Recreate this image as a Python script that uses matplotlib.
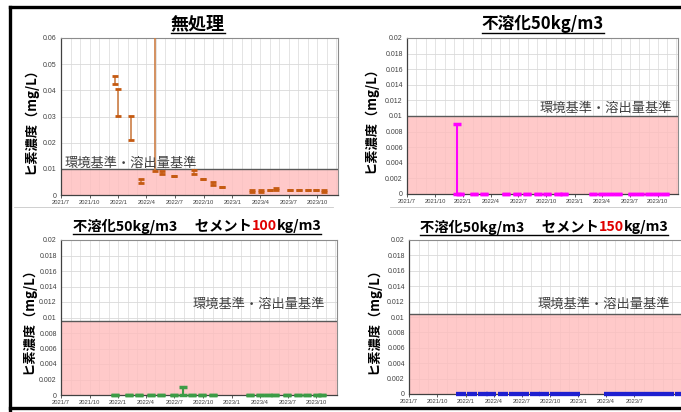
import numpy as np
import pandas as pd
import matplotlib
matplotlib.use('Agg')
import matplotlib.pyplot as plt
import matplotlib.dates as mdates
from matplotlib.lines import Line2D

plt.rcParams['font.family'] = ['Noto Sans CJK JP', 'DejaVu Sans']

W, H = 681, 412

# 無処理
p1_dates = ['2021-12-20', '2021-12-30', '2022-02-09', '2022-03-13', '2022-04-27',
            '2022-05-22', '2022-06-28', '2022-08-31', '2022-09-28', '2022-11-01',
            '2022-11-28', '2023-03-04', '2023-04-04', '2023-05-01', '2023-05-22',
            '2023-07-04', '2023-08-04', '2023-09-02', '2023-09-28', '2023-10-22']
p1_low = [0.0424, 0.0302, 0.0212, 0.0047, 0.0093, 0.0082, 0.0071, 0.0081, 0.0061, 0.0039,
          0.0030, 0.0010, 0.0010, 0.0020, 0.0020, 0.0020, 0.0020, 0.0020, 0.0020, 0.0010]
p1_high = [0.0454, 0.0405, 0.0302, 0.0061, 0.0800, 0.0090, 0.0071, 0.0094, 0.0061, 0.0050,
           0.0030, 0.0019, 0.0019, 0.0020, 0.0028, 0.0020, 0.0020, 0.0020, 0.0020, 0.0019]

# 不溶化50kg/m3
p2_dates = ['2021-12-13', '2021-12-23', '2022-02-04', '2022-03-10', '2022-05-23',
            '2022-06-25', '2022-07-30', '2022-09-02', '2022-10-04', '2022-11-07',
            '2022-11-28', '2023-03-04', '2023-04-01', '2023-04-28', '2023-05-25',
            '2023-07-07', '2023-08-04', '2023-09-01', '2023-09-28', '2023-10-25']
p2_low = [0.0] * 20
p2_high = [0.009] + [0.0] * 19

# 不溶化50kg/m3 セメント100kg/m3
p3_dates = ['2021-12-22', '2022-02-04', '2022-03-10', '2022-04-16', '2022-05-19',
            '2022-06-28', '2022-07-28', '2022-08-28', '2022-09-28', '2022-11-01',
            '2023-03-01', '2023-04-01', '2023-04-28', '2023-05-19', '2023-06-28',
            '2023-08-01', '2023-09-01', '2023-10-04', '2023-10-19']
p3_low = [0.0] * 19
p3_high = [0.0] * 6 + [0.001] + [0.0] * 12

# 不溶化50kg/m3 セメント150kg/m3
p4_dates = ['2021-12-16', '2022-01-22', '2022-02-25', '2022-03-25', '2022-05-01',
            '2022-06-07', '2022-07-10', '2022-08-13', '2022-09-13', '2022-10-16',
            '2022-11-19', '2022-12-22', '2023-04-10', '2023-05-13', '2023-06-13',
            '2023-07-16', '2023-08-19', '2023-09-19', '2023-10-22', '2023-11-25']
p4_low = [0.0] * 20
p4_high = [0.0] * 20

tick_dates = ['2021-07-01', '2021-10-01', '2022-01-01', '2022-04-01', '2022-07-01',
              '2022-10-01', '2023-01-01', '2023-04-01', '2023-07-01', '2023-10-01']
tick_labels = ['2021/7', '2021/10', '2022/1', '2022/4', '2022/7',
               '2022/10', '2023/1', '2023/4', '2023/7', '2023/10']
x_start, x_end = '2021-07-01', '2023-12-06'

ylabel = 'ヒ素濃度（mg/L）'
std_label = '環境基準・溶出量基準'

fig = plt.figure(figsize=(W / 100, H / 100), dpi=100)


def px_axes(left, top, right, bottom):
    return fig.add_axes([left / W, 1 - bottom / H, (right - left) / W, (bottom - top) / H])


def fig_line(x0, x1, y0, y1, color='black', lw=2.2):
    fig.add_artist(Line2D([x0 / W, x1 / W], [1 - y0 / H, 1 - y1 / H],
                          transform=fig.transFigure, color=color, lw=lw))


def style_axes(ax, ymax, ystep, band_top, nticks=10):
    ax.set_xlim(pd.Timestamp(x_start), pd.Timestamp(x_end))
    ax.set_ylim(0, ymax)
    yt = np.round(np.arange(0, ymax + ystep / 2, ystep), 4)
    ax.set_yticks(yt)
    ax.set_yticklabels([f'{v:g}' for v in yt])
    ax.set_xticks(pd.to_datetime(tick_dates[:nticks]))
    ax.set_xticklabels(tick_labels[:nticks])
    ax.xaxis.set_minor_locator(mdates.MonthLocator())
    ax.set_axisbelow(True)
    ax.grid(which='both', axis='x', color='#d9d9d9', lw=0.5)
    ax.grid(which='major', axis='y', color='#d9d9d9', lw=0.6)
    ax.axhspan(0, band_top, color='#ffbcbc', alpha=0.8, lw=0, zorder=1)
    ax.axhline(band_top, color='#595959', lw=1, zorder=2)
    for s in ['top', 'right']:
        ax.spines[s].set_color('#8c8c8c')
        ax.spines[s].set_linewidth(0.8)
    for s in ['left', 'bottom']:
        ax.spines[s].set_color('#404040')
        ax.spines[s].set_linewidth(0.9)
    ax.tick_params(axis='x', which='major', length=2, width=0.6, labelsize=4.2, pad=1.5,
                   colors='#404040')
    ax.tick_params(axis='x', which='minor', length=0)
    ax.tick_params(axis='y', length=0, labelsize=5, pad=3, colors='#404040')
    plt.setp(ax.get_xticklabels() + ax.get_yticklabels(),
             family=['Liberation Sans Narrow', 'Liberation Sans', 'DejaVu Sans'])


def draw_series(ax, dates, low, high, line_color, mark_color, ms, mew, lw):
    d = pd.to_datetime(dates)
    low = np.array(low)
    high = np.array(high)
    ax.vlines(d, low, high, color=line_color, lw=lw, zorder=3)
    ax.plot(d, low, ls='none', marker='_', ms=ms, mew=mew, color=mark_color,
            zorder=4, clip_on=False)
    top = ax.get_ylim()[1]
    keep = high <= top
    ax.plot(d[keep], high[keep], ls='none', marker='_', ms=ms, mew=mew, color=mark_color,
            zorder=4, clip_on=False)


def draw_title(cx, cy, parts, size=13, uoff=9):
    texts = []
    for s, c in parts:
        texts.append(fig.text(0, 0, s, color=c, fontsize=size, fontweight='bold',
                              ha='left', va='center'))
    r = fig.canvas.get_renderer()
    widths = [t.get_window_extent(r).width for t in texts]
    total = sum(widths)
    x = cx - total / 2
    for t, w in zip(texts, widths):
        t.set_position((x / W, 1 - cy / H))
        x += w
    fig_line(cx - total / 2, cx + total / 2, cy + uoff, cy + uoff, lw=1.0)


# 枠線
fig_line(10, 681, 7, 7, lw=2.4)
fig_line(10, 10, 7, 410, lw=2.4)
fig_line(10, 681, 408, 408, lw=2.4)
fig_line(14, 333, 207, 207, color='#c8c8c8', lw=0.6)
fig_line(390, 681, 207, 207, color='#c8c8c8', lw=0.6)

ax1 = px_axes(61, 38, 338, 195)
style_axes(ax1, 0.06, 0.01, 0.01)
draw_series(ax1, p1_dates, p1_low, p1_high, '#cc7e45', '#c55a11', 5, 2.0, 1.2)

ax2 = px_axes(407, 38, 678, 194)
style_axes(ax2, 0.02, 0.002, 0.01)
draw_series(ax2, p2_dates, p2_low, p2_high, '#ff00ff', '#ff00ff', 6, 2.5, 1.5)

ax3 = px_axes(61, 240, 337, 395)
style_axes(ax3, 0.02, 0.002, 0.0095)
draw_series(ax3, p3_dates, p3_low, p3_high, '#3c9c46', '#3c9c46', 6, 2.5, 1.5)

ax4 = px_axes(409, 240, 683, 394)
style_axes(ax4, 0.02, 0.002, 0.0104, nticks=9)
draw_series(ax4, p4_dates, p4_low, p4_high, '#1f1fd0', '#1f1fd0', 7, 3.0, 1.5)
ax4.spines['right'].set_visible(False)

# 縦軸ラベル
for x, y in [(30, 117), (370, 116), (28, 317), (373, 317)]:
    fig.text(x / W, 1 - y / H, ylabel, rotation=90, fontsize=9.5, fontweight='bold',
             ha='center', va='center')

# 基準ラベル
fig.text(65 / W, 1 - 163 / H, std_label, fontsize=9.5, color='#404040', ha='left', va='center')
fig.text(672 / W, 1 - 108 / H, std_label, fontsize=9.5, color='#404040', ha='right', va='center')
fig.text(325 / W, 1 - 304 / H, std_label, fontsize=9.5, color='#404040', ha='right', va='center')
fig.text(670 / W, 1 - 304 / H, std_label, fontsize=9.5, color='#404040', ha='right', va='center')

# タイトル
draw_title(198, 24, [('無処理', 'black')])
draw_title(543, 24, [('不溶化50kg/m3', 'black')], size=12)
draw_title(197, 226, [('不溶化50kg/m3\u3000 セメント', 'black'), ('100', '#e00000'),
                      ('kg/m3', 'black')], size=10.3, uoff=8)
draw_title(544, 227, [('不溶化50kg/m3\u3000 セメント', 'black'), ('150', '#e00000'),
                      ('kg/m3', 'black')], size=10.3, uoff=8)

fig.savefig('out.png', dpi=100)
